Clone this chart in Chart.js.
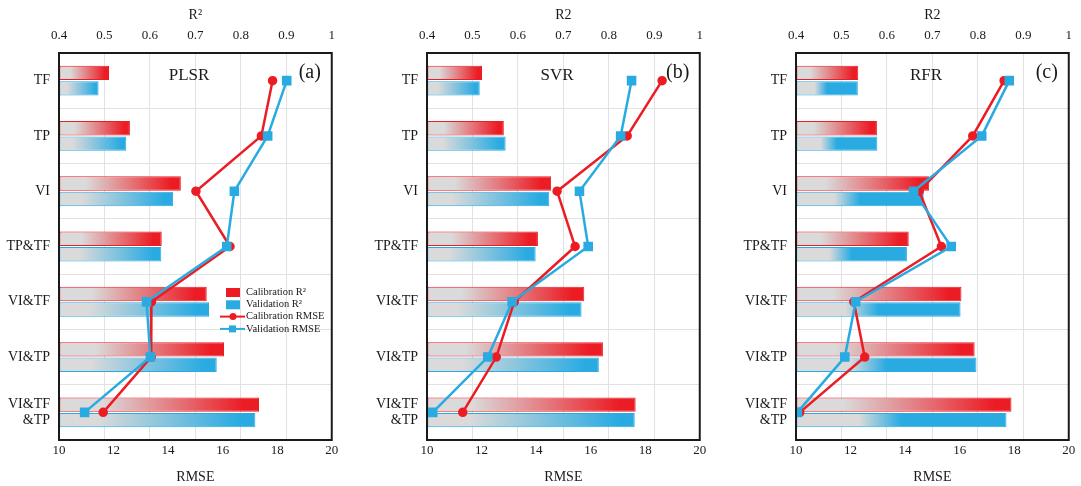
<!DOCTYPE html>
<html>
<head>
<meta charset="utf-8">
<script src="https://cdn.jsdelivr.net/npm/chart.js@4.4.0/dist/chart.umd.min.js"></script>
<style>
  body { margin: 0; background: #fff; }
  #wrap { position: relative; width: 1081px; height: 486px; }
  .panel { position: absolute; top: 0; width: 345px; height: 486px; }
</style>
</head>
<body>
<div id="wrap">
  <div class="panel" style="left:0"><canvas id="plsrChart"></canvas></div>
  <div class="panel" style="left:368px"><canvas id="svrChart"></canvas></div>
  <div class="panel" style="left:737px"><canvas id="rfrChart"></canvas></div>
</div>
<script>
const categories = ['TF', 'TP', 'VI', 'TP&TF', 'VI&TF', 'VI&TP', ['VI&TF', '&TP']];

const plsrCalR2 = [0.510, 0.556, 0.668, 0.626, 0.725, 0.763, 0.840];
const plsrValR2 = [0.487, 0.548, 0.651, 0.625, 0.730, 0.747, 0.832];
const plsrCalRmse = [17.83, 17.42, 15.02, 16.27, 13.39, 13.38, 11.62];
const plsrValRmse = [18.35, 17.65, 16.43, 16.15, 13.21, 13.35, 10.94];

const svrCalR2 = [0.521, 0.569, 0.673, 0.644, 0.746, 0.787, 0.859];
const svrValR2 = [0.516, 0.573, 0.669, 0.639, 0.740, 0.778, 0.857];
const svrCalRmse = [18.62, 17.34, 14.77, 15.43, 13.20, 12.54, 11.31];
const svrValRmse = [17.50, 17.10, 15.59, 15.91, 13.12, 12.23, 10.21];

const rfrCalR2 = [0.537, 0.578, 0.693, 0.648, 0.764, 0.793, 0.874];
const rfrValR2 = [0.536, 0.579, 0.681, 0.644, 0.762, 0.797, 0.863];
const rfrCalRmse = [17.63, 16.48, 14.52, 15.33, 12.12, 12.52, 10.14];
const rfrValRmse = [17.82, 16.81, 14.31, 15.69, 12.19, 11.79, 10.05];

const red = '#ec1c24';
const blue = '#29abe2';
const grey = '#dadada';
const serif = '"Liberation Serif", "DejaVu Serif", serif';
const ink = '#1a1a1a';

// gray -> colour fade along each bar, from the axis to the bar end
function fade(color, stops) {
  return (ctx) => {
    const chart = ctx.chart;
    const area = chart.chartArea;
    if (!area || ctx.type !== 'data') return color;
    const x1 = chart.scales.r2.getPixelForValue(ctx.raw);
    const g = chart.ctx.createLinearGradient(area.left, 0, x1, 0);
    g.addColorStop(0, grey);
    g.addColorStop(stops[0], grey);
    g.addColorStop(stops[1], color);
    g.addColorStop(1, color);
    return g;
  };
}

const panelDecor = {
  id: 'panelDecor',
  afterDraw(chart, args, opts) {
    const { ctx, chartArea: a } = chart;
    ctx.save();
    ctx.strokeStyle = ink;
    ctx.lineWidth = 2;
    ctx.strokeRect(a.left, a.top, a.right - a.left, a.bottom - a.top);
    ctx.fillStyle = ink;
    ctx.textAlign = 'center';
    ctx.textBaseline = 'middle';
    ctx.font = '17px ' + serif;
    ctx.fillText(opts.name, a.left + 130, a.top + 23);
    ctx.font = '20px ' + serif;
    ctx.fillText(opts.tag, a.right - 22, a.top + 20);
    ctx.restore();
  }
};

const insideLegend = {
  id: 'insideLegend',
  afterDraw(chart, args, opts) {
    if (!opts.show) return;
    const ctx = chart.ctx;
    ctx.save();
    ctx.font = '10.5px ' + serif;
    ctx.textBaseline = 'middle';
    ctx.textAlign = 'left';
    chart.data.datasets.forEach((ds, i) => {
      const y = opts.y + i * 12.3;
      const c = ds.borderColor;
      if (ds.type === 'bar') {
        ctx.fillStyle = c;
        ctx.fillRect(opts.x + 6, y - 4, 14, 9);
      } else {
        ctx.strokeStyle = c;
        ctx.lineWidth = 2;
        ctx.beginPath();
        ctx.moveTo(opts.x, y);
        ctx.lineTo(opts.x + 25, y);
        ctx.stroke();
        ctx.fillStyle = c;
        if (ds.pointStyle === 'rect') {
          ctx.fillRect(opts.x + 9, y - 3.5, 7, 7);
        } else {
          ctx.beginPath();
          ctx.arc(opts.x + 13, y, 3.5, 0, Math.PI * 2);
          ctx.fill();
        }
      }
      ctx.fillStyle = ink;
      ctx.fillText(ds.label, opts.x + 26, y);
    });
    ctx.restore();
  }
};

function makeChart(canvasId, name, tag, r2Title, calR2, valR2, calRmse, valRmse, showLegend, blueStops) {
  const ctx = document.getElementById(canvasId).getContext('2d');
  return new Chart(ctx, {
    data: {
      labels: categories,
      datasets: [
        {
          type: 'bar', label: 'Calibration R²', data: calR2, xAxisID: 'r2', yAxisID: 'y',
          base: 0.4, backgroundColor: fade(red, [0.22, 0.92]), borderColor: red,
          borderWidth: 1, borderSkipped: false, categoryPercentage: 0.56, barPercentage: 0.93, order: 2
        },
        {
          type: 'bar', label: 'Validation R²', data: valR2, xAxisID: 'r2', yAxisID: 'y',
          base: 0.4, backgroundColor: fade(blue, blueStops), borderColor: blue,
          borderWidth: 1, borderSkipped: false, categoryPercentage: 0.56, barPercentage: 0.93, order: 2
        },
        {
          type: 'line', label: 'Calibration RMSE', data: calRmse, xAxisID: 'rmse', yAxisID: 'y',
          borderColor: red, backgroundColor: red, borderWidth: 2.5, tension: 0,
          pointStyle: 'circle', pointRadius: 3.5, order: 1
        },
        {
          type: 'line', label: 'Validation RMSE', data: valRmse, xAxisID: 'rmse', yAxisID: 'y',
          borderColor: blue, backgroundColor: blue, borderWidth: 2.5, tension: 0,
          pointStyle: 'rect', pointRadius: 5, order: 0
        }
      ]
    },
    options: {
      indexAxis: 'y',
      responsive: true,
      maintainAspectRatio: false,
      animation: false,
      layout: { padding: { right: 13 } },
      plugins: {
        legend: { display: false },
        tooltip: { enabled: false },
        panelDecor: { name: name, tag: tag },
        insideLegend: { show: showLegend, x: 220, y: 292 }
      },
      scales: {
        y: {
          type: 'category',
          position: 'left',
          grid: { color: '#e2e2e2', drawTicks: false, offset: true },
          border: { display: false },
          ticks: { color: ink, font: { family: serif, size: 14 }, padding: 9 },
          afterFit(s) { s.width = 59; }
        },
        r2: {
          type: 'linear',
          axis: 'x',
          position: 'top',
          min: 0.4,
          max: 1,
          ticks: {
            stepSize: 0.1, padding: 10, color: ink, font: { family: serif, size: 13 },
            callback: (v) => String(Math.round(v * 10) / 10)
          },
          grid: { color: '#e2e2e2', drawTicks: false },
          border: { display: false },
          title: { display: true, text: r2Title, color: ink, font: { family: serif, size: 14 }, padding: { top: 7, bottom: 0 } },
          afterFit(s) { s.height = 53; }
        },
        rmse: {
          type: 'linear',
          axis: 'x',
          position: 'bottom',
          min: 10,
          max: 20,
          ticks: { stepSize: 2, padding: 3, color: ink, font: { family: serif, size: 13 } },
          grid: { display: false, drawTicks: false },
          border: { display: false },
          title: { display: true, text: 'RMSE', color: ink, font: { family: serif, size: 14 }, padding: { top: 0, bottom: 0 } },
          afterFit(s) { s.height = 46; }
        }
      }
    },
    plugins: [panelDecor, insideLegend]
  });
}

makeChart('plsrChart', 'PLSR', '(a)', 'R²', plsrCalR2, plsrValR2, plsrCalRmse, plsrValRmse, true, [0.2, 0.92]);
makeChart('svrChart', 'SVR', '(b)', 'R2', svrCalR2, svrValR2, svrCalRmse, svrValRmse, false, [0.2, 0.92]);
makeChart('rfrChart', 'RFR', '(c)', 'R2', rfrCalR2, rfrValR2, rfrCalRmse, rfrValRmse, false, [0.3, 0.5]);
</script>
</body>
</html>
